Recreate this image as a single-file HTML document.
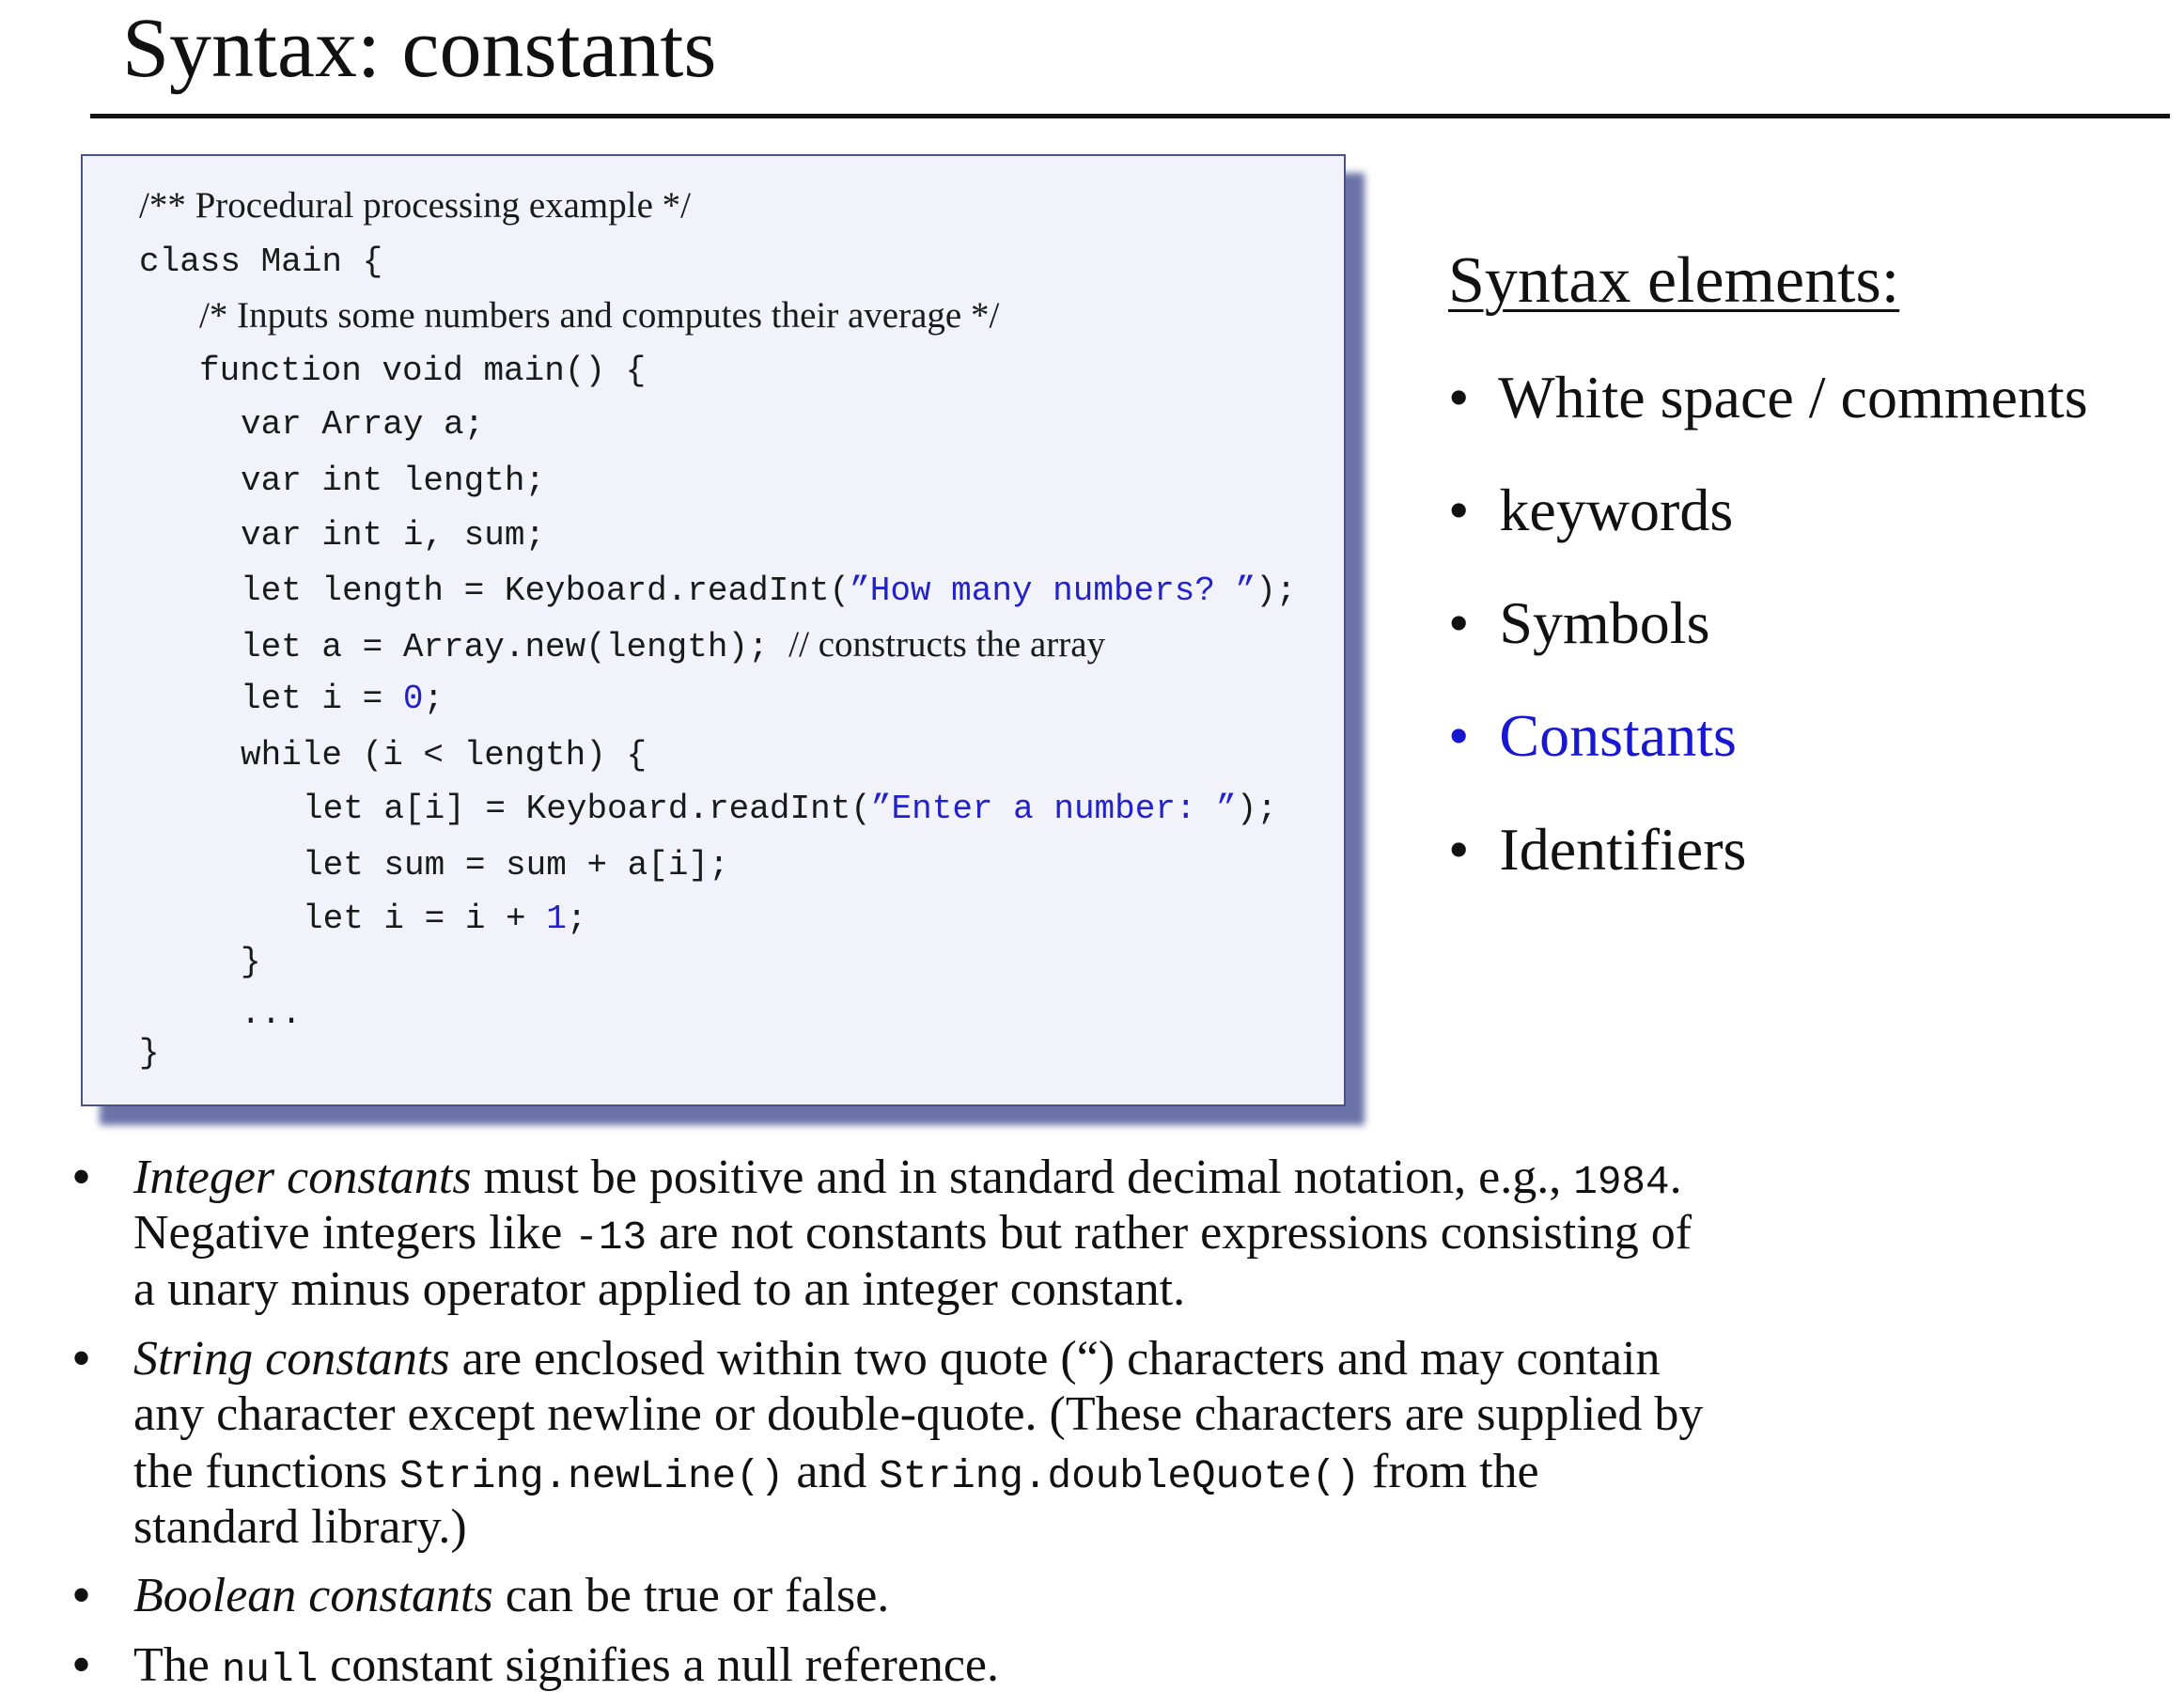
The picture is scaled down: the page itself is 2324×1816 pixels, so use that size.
<!DOCTYPE html>
<html><head><meta charset="utf-8"><style>
html,body{margin:0;padding:0;background:#fff;}
body{width:2324px;height:1816px;position:relative;overflow:hidden;}
.a{position:absolute;white-space:pre;line-height:1;}
.s{font-family:"Liberation Serif",serif;color:#111;}
.m{font-family:"Liberation Mono",monospace;font-size:36px;color:#1a1a1a;}
.c{font-family:"Liberation Serif",serif;font-size:39px;}
.b{color:#2222c8;}
.mm{font-family:"Liberation Mono",monospace;font-size:0.82em;}
.bt{font-size:60px;}
</style></head><body>
<div class="a s" style="left:130px;top:7px;font-size:90px;">Syntax: constants</div>
<div style="position:absolute;left:96px;top:121px;width:2213px;height:5px;background:#111;"></div>

<div style="position:absolute;left:106px;top:184px;width:1346px;height:1013px;background:#6a72a8;filter:blur(4px);"></div>
<div style="position:absolute;left:86px;top:164px;width:1342px;height:1009px;background:#f2f2fa;border:2px solid #4a5288;"></div>

<div class="a m" style="left:148px;top:199px;"><span class="c">/** Procedural processing example */</span></div>
<div class="a m" style="left:148px;top:261px;">class Main {</div>
<div class="a m" style="left:212px;top:316px;"><span class="c">/* Inputs some numbers and computes their average */</span></div>
<div class="a m" style="left:212px;top:377px;">function void main() {</div>
<div class="a m" style="left:256px;top:434px;">var Array a;</div>
<div class="a m" style="left:256px;top:494px;">var int length;</div>
<div class="a m" style="left:256px;top:552px;">var int i, sum;</div>
<div class="a m" style="left:256px;top:611px;">let length = Keyboard.readInt(<span class="b">”How many numbers? ”</span>);</div>
<div class="a m" style="left:256px;top:666px;">let a = Array.new(length); <span class="c">// constructs the array</span></div>
<div class="a m" style="left:256px;top:726px;">let i = <span class="b">0</span>;</div>
<div class="a m" style="left:256px;top:786px;">while (i &lt; length) {</div>
<div class="a m" style="left:322px;top:843px;">let a[i] = Keyboard.readInt(<span class="b">”Enter a number: ”</span>);</div>
<div class="a m" style="left:322px;top:903px;">let sum = sum + a[i];</div>
<div class="a m" style="left:322px;top:960px;">let i = i + <span class="b">1</span>;</div>
<div class="a m" style="left:256px;top:1006px;">}</div>
<div class="a m" style="left:256px;top:1061px;">...</div>
<div class="a m" style="left:148px;top:1103px;">}</div>

<div class="a s" style="left:1541px;top:264px;font-size:70px;text-decoration:underline;text-decoration-thickness:3px;text-underline-offset:8px;">Syntax elements:</div>
<div class="a s" style="left:1541px;top:391px;font-size:64px;">•  White space / comments</div>
<div class="a s" style="left:1541px;top:511px;font-size:64px;">•  keywords</div>
<div class="a s" style="left:1541px;top:631px;font-size:64px;">•  Symbols</div>
<div class="a s" style="left:1541px;top:751px;font-size:64px;color:#1818d0;">•  Constants</div>
<div class="a s" style="left:1541px;top:872px;font-size:64px;">•  Identifiers</div>

<div class="a s bt" style="left:76px;top:1222px;">•</div>
<div class="a s" style="left:142px;top:1227px;font-size:52px;"><i>Integer constants</i> must be positive and in standard decimal notation, e.g., <span class="mm">1984</span>.</div>
<div class="a s" style="left:142px;top:1286px;font-size:52px;">Negative integers like <span class="mm">-13</span> are not constants but rather expressions consisting of</div>
<div class="a s" style="left:142px;top:1346px;font-size:52px;">a unary minus operator applied to an integer constant.</div>
<div class="a s bt" style="left:76px;top:1415px;">•</div>
<div class="a s" style="left:142px;top:1420px;font-size:52px;"><i>String constants</i> are enclosed within two quote (“) characters and may contain</div>
<div class="a s" style="left:142px;top:1479px;font-size:52px;">any character except newline or double-quote. (These characters are supplied by</div>
<div class="a s" style="left:142px;top:1540px;font-size:52px;">the functions <span class="mm">String.newLine()</span> and <span class="mm">String.doubleQuote()</span> from the</div>
<div class="a s" style="left:142px;top:1599px;font-size:52px;">standard library.)</div>
<div class="a s bt" style="left:76px;top:1667px;">•</div>
<div class="a s" style="left:142px;top:1672px;font-size:52px;"><i>Boolean constants</i> can be true or false.</div>
<div class="a s bt" style="left:76px;top:1741px;">•</div>
<div class="a s" style="left:142px;top:1746px;font-size:52px;">The <span class="mm">null</span> constant signifies a null reference.</div>
</body></html>
